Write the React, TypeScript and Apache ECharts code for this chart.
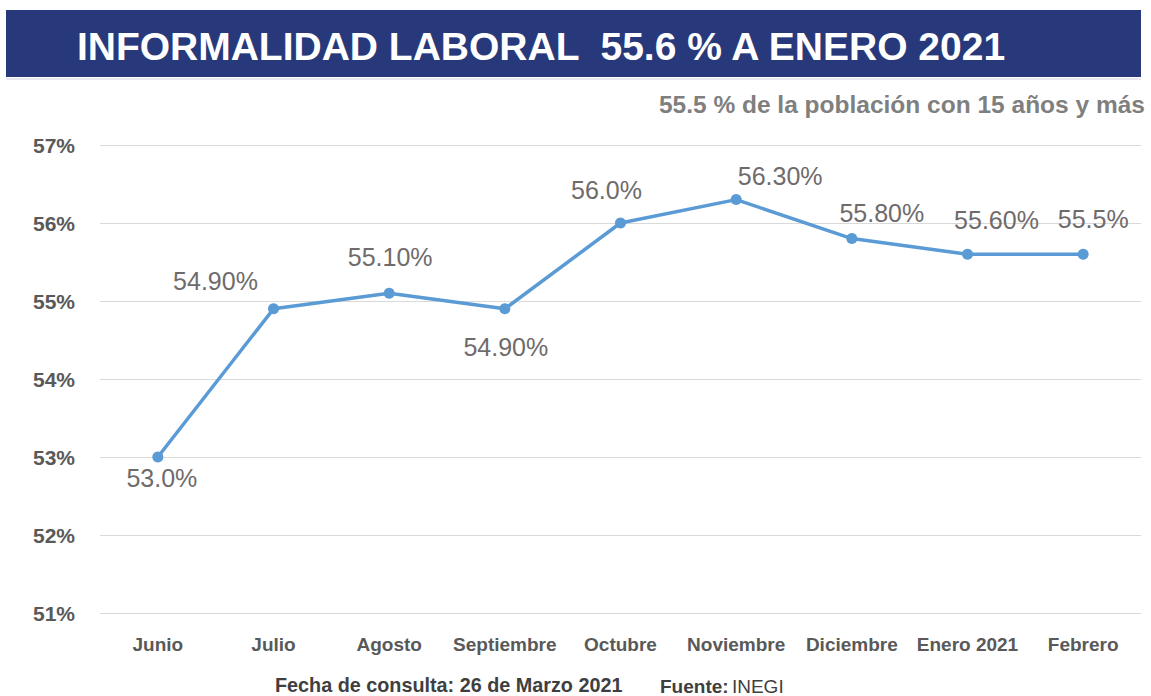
import React, { useEffect, useRef } from "react";
import * as echarts from "echarts";

const categories = ["Junio", "Julio", "Agosto", "Septiembre", "Octubre", "Noviembre", "Diciembre", "Enero 2021", "Febrero"];
const values = [53.0, 54.9, 55.1, 54.9, 56.0, 56.3, 55.8, 55.6, 55.6];
const valueLabels = ["53.0%", "54.90%", "55.10%", "54.90%", "56.0%", "56.30%", "55.80%", "55.60%", "55.5%"];
const labelOffsets: number[][] = [[4, 21], [-58, -28], [1, -36], [1, 38], [-14, -33], [44, -24], [30, -26], [29, -34], [10, -35]];
const yTicks = { min: 51, max: 57, interval: 1 };

const titleText = "INFORMALIDAD LABORAL  55.6 % A ENERO 2021";
const subtitleText = "55.5 % de la población con 15 años y más";
const footerDate = "Fecha de consulta: 26 de Marzo 2021";

const FONT = "'Liberation Sans', Arial, sans-serif";

export default function App() {
  const ref = useRef<HTMLDivElement>(null);
  useEffect(() => {
    if (!ref.current) return;
    const chart = echarts.init(ref.current, null, { renderer: "svg" });
    chart.setOption({
      animation: false,
      backgroundColor: "#ffffff",
      textStyle: { fontFamily: FONT },
      graphic: [
        { type: "rect", shape: { x: 6, y: 10, width: 1135, height: 67 }, style: { fill: "#27397a" }, z: 0 },
        { type: "line", shape: { x1: 6, y1: 79, x2: 1141, y2: 79 }, style: { stroke: "#d0d4e0", lineWidth: 1 } },
        {
          type: "text", x: 541, y: 46, z: 5,
          style: { text: titleText, fill: "#ffffff", font: `bold 39px ${FONT}`, textAlign: "center", textVerticalAlign: "middle" },
        },
        {
          type: "text", x: 1145, y: 104, z: 5,
          style: { text: subtitleText, fill: "#7f7f7f", font: `bold 24.5px ${FONT}`, textAlign: "right", textVerticalAlign: "middle" },
        },
        {
          type: "text", x: 275, y: 685, z: 5,
          style: { text: footerDate, fill: "#3f3f3f", font: `bold 19.8px ${FONT}`, textAlign: "left", textVerticalAlign: "middle" },
        },
        {
          type: "text", x: 660, y: 686, z: 5,
          style: {
            text: "{b|Fuente:} {r|INEGI}",
            textVerticalAlign: "middle",
            rich: {
              b: { fontFamily: FONT, fontWeight: "bold", fontSize: 19, fill: "#3f3f3f", color: "#3f3f3f" },
              r: { fontFamily: FONT, fontWeight: "normal", fontSize: 19, fill: "#3f3f3f", color: "#3f3f3f" },
            },
          },
        },
      ],
      grid: { left: 100, right: 10, top: 145, bottom: 83 },
      xAxis: {
        type: "category",
        data: categories,
        boundaryGap: true,
        axisLine: { show: false },
        axisTick: { show: false },
        axisLabel: { interval: 0, color: "#595959", fontWeight: "bold", fontSize: 19, fontFamily: FONT, margin: 22 },
      },
      yAxis: {
        type: "value",
        min: yTicks.min,
        max: yTicks.max,
        interval: yTicks.interval,
        axisLine: { show: false },
        axisTick: { show: false },
        splitLine: { lineStyle: { color: "#d9d9d9", width: 1 } },
        axisLabel: { formatter: "{value}%", color: "#595959", fontWeight: "bold", fontSize: 21, fontFamily: FONT, margin: 25 },
      },
      series: [
        {
          type: "line",
          data: values.map((v, i) => ({
            value: v,
            label: { offset: labelOffsets[i], formatter: valueLabels[i] },
          })),
          symbol: "circle",
          symbolSize: 11,
          lineStyle: { color: "#5b9bd5", width: 3.5 },
          itemStyle: { color: "#5b9bd5" },
          label: {
            show: true,
            position: "inside",
            color: "#6f6b6b",
            fontSize: 25,
            fontFamily: FONT,
          },
        },
      ],
    });
    return () => chart.dispose();
  }, []);
  return <div ref={ref} style={{ position: "fixed", left: 0, top: 0, width: 1151, height: 696 }} />;
}
